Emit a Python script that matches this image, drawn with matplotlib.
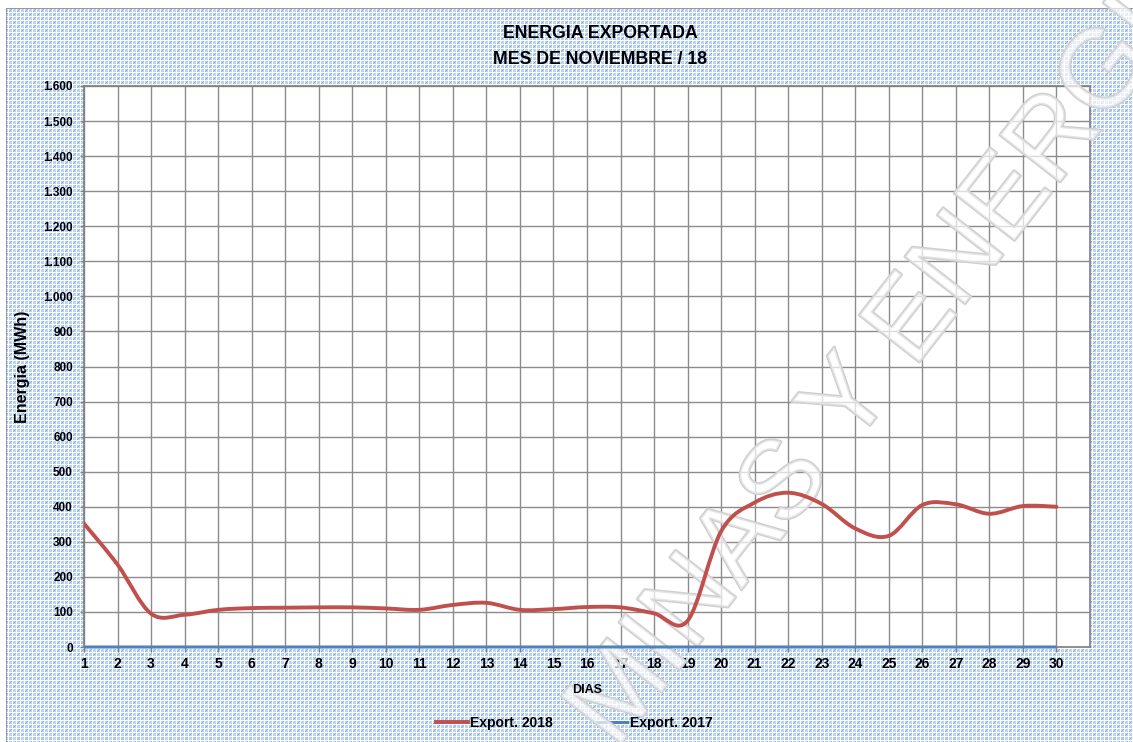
import numpy as np
import matplotlib
matplotlib.use("Agg")
import matplotlib.pyplot as plt
from matplotlib.path import Path
from matplotlib.patches import PathPatch
from matplotlib.lines import Line2D
from matplotlib.ticker import FuncFormatter, MultipleLocator
import matplotlib.patheffects as pe

# ---------------- data ----------------
days = list(range(1, 31))
export_2018 = [352, 235, 95, 92, 106, 111, 112, 113, 113, 110,
               106, 120, 126, 106, 108, 114, 113, 96, 75, 330,
               412, 440, 408, 338, 317, 405, 407, 380, 402, 400]
export_2017 = [0] * 30
series_labels = ["Export. 2018", "Export. 2017"]
title_lines = ["ENERGIA EXPORTADA", "MES DE NOVIEMBRE / 18"]
x_label = "DIAS"
y_label = "Energia (MWh)"
watermark = "MINAS Y ENERGIA"

W, H = 1133, 742
plt.rcParams['font.family'] = ['Liberation Sans', 'DejaVu Sans']

fig = plt.figure(figsize=(W / 100, H / 100), dpi=100)
fig.patch.set_facecolor('white')

# ---------- patterned background ----------
bg = fig.add_axes([0, 0, 1, 1], zorder=-10)
ii, jj = np.indices((H, W))
img = np.ones((H, W, 3))
light = np.array([0.74, 0.83, 0.97])
dark = np.array([0.52, 0.68, 0.92])
blue_mask = ((ii % 4) != 0) & ((jj % 4) != 0)
dark_mask = blue_mask & ((((ii // 4) + (jj // 4)) % 2) == 0) & (((ii + jj) % 4) == 0)
img[blue_mask] = light
img[dark_mask] = dark
img[:8, :] = 1.0
img[:, :6] = 1.0
img[8, 6:] = [0.6, 0.6, 0.6]
img[8:, 6] = [0.6, 0.6, 0.6]
bg.imshow(img, interpolation='nearest', aspect='auto')
bg.set_axis_off()

# ---------- main axes ----------
left, right, top, bottom = 84, 1090, 86, 647
ax = fig.add_axes([left / W, 1 - bottom / H, (right - left) / W, (bottom - top) / H])
ax.set_facecolor('white')
ax.set_xlim(1, 31)
ax.set_ylim(0, 1600)
ax.set_xticks(days)
ax.yaxis.set_major_locator(MultipleLocator(100))
ax.yaxis.set_major_formatter(FuncFormatter(lambda v, p: f"{v:,.0f}".replace(",", ".")))
ax.grid(True, color='#8c8c8c', lw=1.0, zorder=0.5)
ax.set_axisbelow(True)
for s in ax.spines.values():
    s.set_color('#808080')
    s.set_linewidth(1.2)
ax.tick_params(axis='y', length=3, width=1, color='#808080', pad=5, labelsize=8.5)
ax.tick_params(axis='x', length=3.5, width=1, color='#808080', pad=4, labelsize=10)
for lab in ax.get_xticklabels() + ax.get_yticklabels():
    lab.set_fontweight('bold')


def smooth_path(xs, ys):
    # Excel-style smoothed line expressed as cubic Bezier segments
    xs = np.asarray(xs, float)
    ys = np.asarray(ys, float)
    n = len(xs)
    verts = [(xs[0], ys[0])]
    codes = [Path.MOVETO]
    for i in range(n - 1):
        p0 = (xs[max(i - 1, 0)], ys[max(i - 1, 0)])
        p1 = (xs[i], ys[i])
        p2 = (xs[i + 1], ys[i + 1])
        p3 = (xs[min(i + 2, n - 1)], ys[min(i + 2, n - 1)])
        c1 = (p1[0] + (p2[0] - p0[0]) / 6, p1[1] + (p2[1] - p0[1]) / 6)
        c2 = (p2[0] - (p3[0] - p1[0]) / 6, p2[1] - (p3[1] - p1[1]) / 6)
        verts += [c1, c2, p2]
        codes += [Path.CURVE4] * 3
    return Path(verts, codes)


red = '#c0504d'
blue = '#4f81bd'
ax.add_patch(PathPatch(smooth_path(days, export_2018), fill=False, edgecolor=red,
                       lw=2.8, capstyle='round', joinstyle='round', zorder=4))
ax.add_patch(PathPatch(smooth_path(days, export_2017), fill=False, edgecolor=blue,
                       lw=2.2, zorder=4, clip_on=False))

# axis labels
fig.text((left + right) / 2 / W, 1 - 690 / H, x_label, ha='center', va='center',
         fontsize=9, fontweight='bold', zorder=5)
ax.set_ylabel(y_label, fontsize=11.5, fontweight='bold')
ax.yaxis.set_label_coords((30 - left) / (right - left), 0.5)

# title
fig.text(600 / W, 1 - 33 / H, title_lines[0], ha='center', va='center',
         fontsize=12.8, fontweight='bold')
fig.text(600 / W, 1 - 59 / H, title_lines[1], ha='center', va='center',
         fontsize=12.8, fontweight='bold')

# legend
handles = [Line2D([], [], color=red, lw=2.8), Line2D([], [], color=blue, lw=2.2)]
leg = ax.legend(handles, series_labels, loc='center',
                bbox_to_anchor=(574 / W, 1 - 723 / H), bbox_transform=fig.transFigure,
                ncol=2, frameon=False, handlelength=2.3, handletextpad=0.2,
                columnspacing=3.0, prop={'weight': 'bold', 'size': 10})
leg.set_zorder(2)

# watermark (outlined letters)
wm = ax.text(0, 0, watermark, transform=None, fontsize=80,
             family=['Liberation Sans', 'DejaVu Sans'], color=(1, 1, 1, 0.45),
             rotation=52, ha='center', va='center', zorder=3, clip_on=False,
             path_effects=[pe.Stroke(linewidth=2.0, foreground='#cfcfcf'),
                           pe.Normal()])
wm.set_position((896, H - 345))

fig.savefig('out.png', dpi=100)
